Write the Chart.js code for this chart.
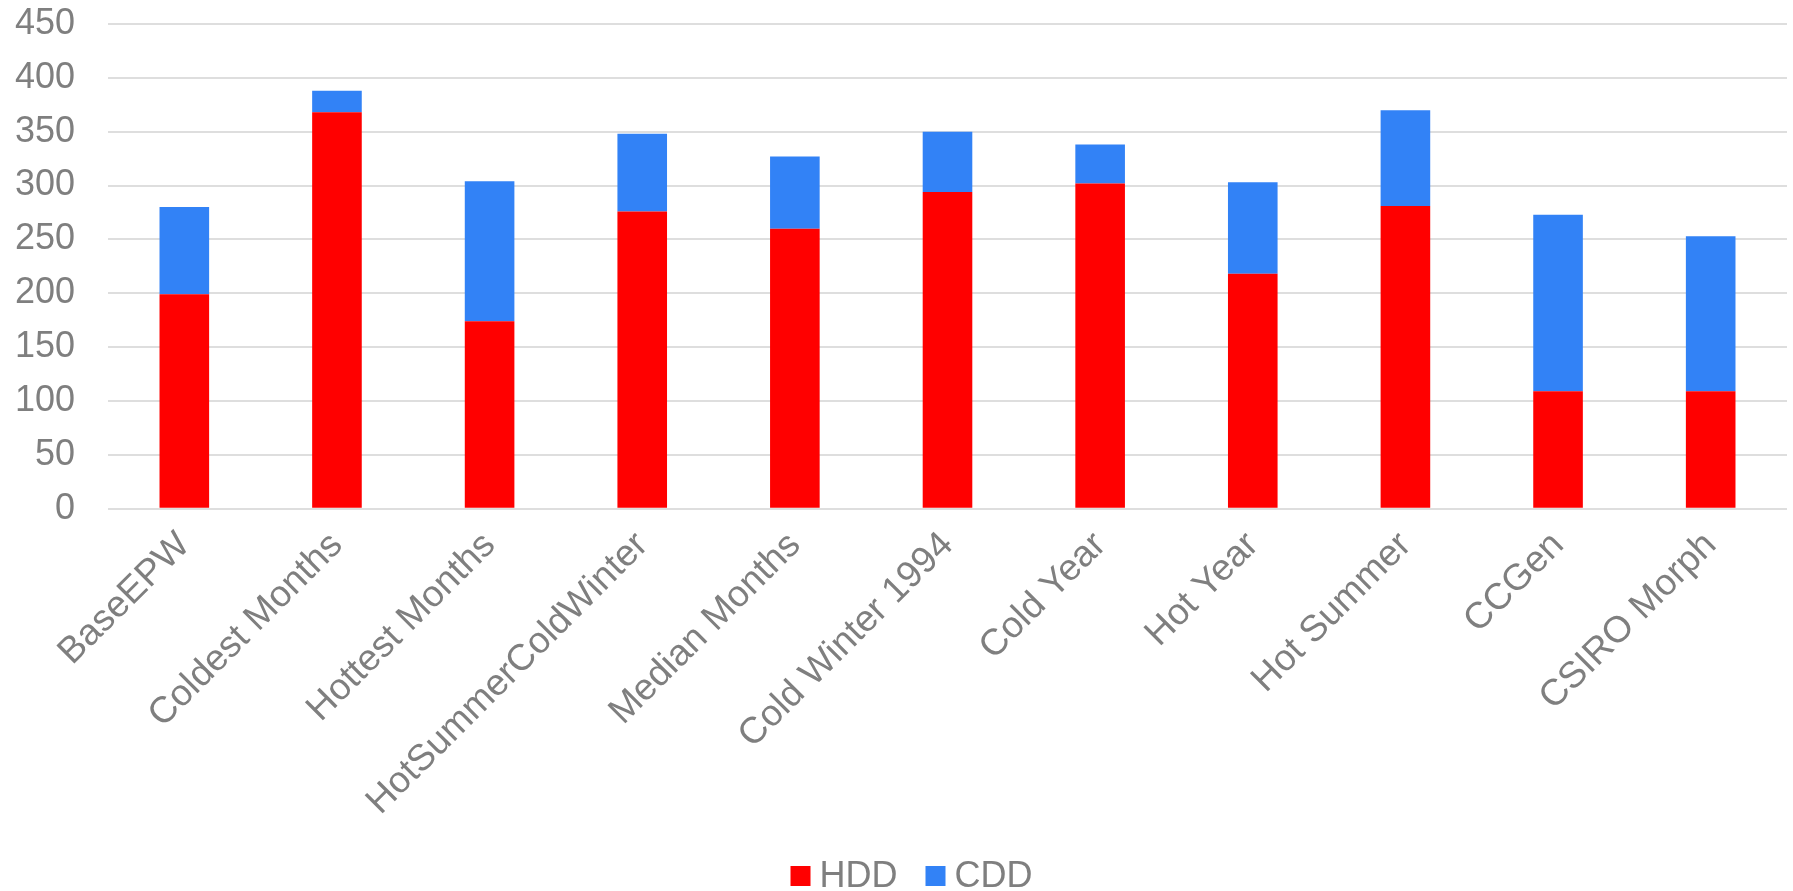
<!DOCTYPE html>
<html>
<head>
<meta charset="utf-8">
<title>HDD and CDD by weather file</title>
<script src="https://cdn.jsdelivr.net/npm/chart.js@4/dist/chart.umd.min.js"></script>
<style>
  html, body { margin: 0; padding: 0; background: #ffffff; }
  #wrap { width: 1793px; height: 891px; position: relative; }
</style>
</head>
<body>
<div id="wrap"><canvas id="chart" width="1793" height="891"></canvas></div>
<script>
// Weather file scenarios
const categories = [
  'BaseEPW', 'Coldest Months', 'Hottest Months', 'HotSummerColdWinter',
  'Median Months', 'Cold Winter 1994', 'Cold Year', 'Hot Year',
  'Hot Summer', 'CCGen', 'CSIRO Morph'
];
// Heating degree days (lower segment)
const hdd = [199, 368, 174, 276, 260, 294, 302, 218, 281, 109, 109];
// Cooling degree days (stacked on top)
const cdd = [81, 20, 130, 72, 67, 56, 36, 85, 89, 164, 144];
// Value axis ticks
const yTicks = [0, 50, 100, 150, 200, 250, 300, 350, 400, 450];

const FONT = "'Liberation Sans', Arial, sans-serif";
const TEXT_GRAY = '#7f7f7f';

// Legend drawn below the axis labels: small square swatch, tight gap, label
const bottomLegend = {
  id: 'bottomLegend',
  afterDraw(chart) {
    const ctx = chart.ctx;
    const box = 20, gap = 9, itemGap = 28, size = 36;
    ctx.save();
    ctx.font = size + 'px ' + FONT;
    const items = chart.data.datasets.map(ds => ({
      text: ds.label, color: ds.backgroundColor, w: ctx.measureText(ds.label).width
    }));
    const total = items.reduce((s, it) => s + box + gap + it.w, 0) + itemGap * (items.length - 1);
    let x = chart.width / 2 + 15 - total / 2;
    const boxTop = 866, baseline = 887;
    ctx.textBaseline = 'alphabetic';
    ctx.textAlign = 'left';
    items.forEach(it => {
      ctx.fillStyle = it.color;
      ctx.fillRect(x, boxTop, box, box);
      ctx.fillStyle = TEXT_GRAY;
      ctx.fillText(it.text, x + box + gap, baseline);
      x += box + gap + it.w + itemGap;
    });
    ctx.restore();
  }
};

new Chart(document.getElementById('chart'), {
  type: 'bar',
  data: {
    labels: categories,
    datasets: [
      { label: 'HDD', data: hdd, backgroundColor: '#ff0000', borderWidth: 0,
        barPercentage: 0.325, categoryPercentage: 1.0 },
      { label: 'CDD', data: cdd, backgroundColor: '#3282f6', borderWidth: 0,
        barPercentage: 0.325, categoryPercentage: 1.0 }
    ]
  },
  options: {
    responsive: false,
    animation: false,
    layout: { padding: { left: 15, right: 6, top: 24, bottom: 52 } },
    plugins: {
      legend: { display: false },
      tooltip: { enabled: false }
    },
    scales: {
      x: {
        stacked: true,
        grid: { display: false, drawTicks: false },
        border: { display: false },
        // rotated labels hang into the value-axis gutter, no extra side room needed
        afterFit(scale) { scale.paddingLeft = 0; scale.paddingRight = 0; },
        ticks: {
          autoSkip: false,
          minRotation: 45,
          maxRotation: 45,
          padding: 15,
          color: TEXT_GRAY,
          font: { family: FONT, size: 37 }
        }
      },
      y: {
        stacked: true,
        min: 0,
        max: 450,
        afterBuildTicks(scale) { scale.ticks = yTicks.map(v => ({ value: v })); },
        // gutter = widest label (60px) + 33px gap to the plot
        afterFit(scale) { scale.width = 93; scale.paddingTop = 0; scale.paddingBottom = 0; },
        grid: { color: '#dedede', lineWidth: 2, drawTicks: false },
        border: { display: false },
        ticks: {
          padding: 33,
          color: TEXT_GRAY,
          font: { family: FONT, size: 36 }
        }
      }
    }
  },
  plugins: [bottomLegend]
});
</script>
</body>
</html>
